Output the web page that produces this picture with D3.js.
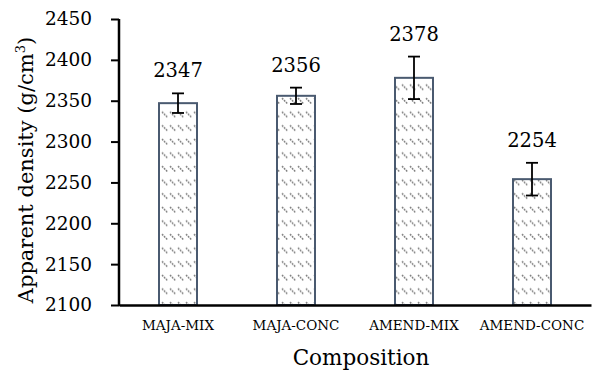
<!DOCTYPE html>
<html><head><meta charset="utf-8">
<script src="https://cdn.jsdelivr.net/npm/d3@7"></script>
<style>body{margin:0;background:#fff}svg{display:block}text{fill:#000}</style>
</head><body><svg id="c" width="594" height="374"></svg>
<script>
const categories = ["MAJA-MIX", "MAJA-CONC", "AMEND-MIX", "AMEND-CONC"];
const densities = [2347, 2356, 2378, 2254];
const errors = [12, 10, 26, 20];
const yTicks = [2100, 2150, 2200, 2250, 2300, 2350, 2400, 2450];
const FONT = '"DejaVu Serif",serif';

const svg = d3.select("#c");
const x = d3.scaleBand().domain(categories).range([119, 591]).paddingInner(0.678).paddingOuter(0.339);
const y = d3.scaleLinear().domain([2100, 2450]).range([305, 19]);

const defs = svg.append("defs");
const pat = defs.append("pattern").attr("id", "hatch").attr("patternUnits", "userSpaceOnUse")
  .attr("width", 8).attr("height", 13.6).attr("x", 1).attr("y", 0);
pat.append("rect").attr("width", 8).attr("height", 13.6).attr("fill", "#fff");
pat.append("line").attr("x1", 1).attr("y1", 3).attr("x2", 6.5).attr("y2", 8.5)
  .attr("stroke", "#7f7f7f").attr("stroke-width", 1.5).attr("stroke-dasharray", "1.8,1");

const data = categories.map((c, i) => ({c, v: densities[i], e: errors[i]}));

svg.append("g").selectAll("rect").data(data).join("rect")
  .attr("x", d => x(d.c)).attr("width", x.bandwidth())
  .attr("y", d => y(d.v)).attr("height", d => y(2100) - y(d.v))
  .attr("fill", "url(#hatch)").attr("stroke", "#4a5a70").attr("stroke-width", 2);

const eb = svg.append("g").attr("stroke", "#000").attr("stroke-width", 1.8);
data.forEach(d => {
  const cx = x(d.c) + x.bandwidth() / 2;
  eb.append("line").attr("x1", cx).attr("x2", cx).attr("y1", y(d.v + d.e)).attr("y2", y(d.v - d.e));
  eb.append("line").attr("x1", cx - 6).attr("x2", cx + 6).attr("y1", y(d.v + d.e)).attr("y2", y(d.v + d.e));
  eb.append("line").attr("x1", cx - 6).attr("x2", cx + 6).attr("y1", y(d.v - d.e)).attr("y2", y(d.v - d.e));
});

svg.append("g").selectAll("text").data(data).join("text")
  .attr("x", d => x(d.c) + x.bandwidth() / 2).attr("y", d => y(d.v + d.e) - 16)
  .attr("text-anchor", "middle").attr("font-family", FONT).attr("font-size", 19.5).text(d => d.v);

const ya = svg.append("g").attr("transform", "translate(119,0)")
  .call(d3.axisLeft(y).tickValues(yTicks).tickSize(8).tickPadding(19).tickFormat(d3.format("d")));
ya.attr("font-family", FONT).attr("font-size", 18.5);
ya.select(".domain").attr("stroke", "#000").attr("stroke-width", 2.5).attr("d", "M0,19V306");
ya.selectAll(".tick line").attr("stroke", "#000").attr("stroke-width", 2);
ya.selectAll(".tick text").attr("fill", "#000");

const xa = svg.append("g").attr("transform", "translate(0,305)")
  .call(d3.axisBottom(x).tickSize(0).tickPadding(15));
xa.attr("font-family", FONT).attr("font-size", 13.5);
xa.select(".domain").attr("stroke", "#000").attr("stroke-width", 2.5);
xa.selectAll(".tick text").attr("fill", "#000");

svg.append("text").attr("x", 361).attr("y", 365).attr("text-anchor", "middle")
  .attr("font-family", FONT).attr("font-size", 21.5).text("Composition");
const yt = svg.append("text").attr("transform", "translate(33,170) rotate(-90)")
  .attr("font-family", FONT).attr("text-anchor", "middle").attr("font-size", 21);
yt.append("tspan").text("Apparent density (g/cm");
yt.append("tspan").attr("dy", -8).attr("font-size", 13).text("3");
yt.append("tspan").attr("dy", 8).text(")");
</script></body></html>
